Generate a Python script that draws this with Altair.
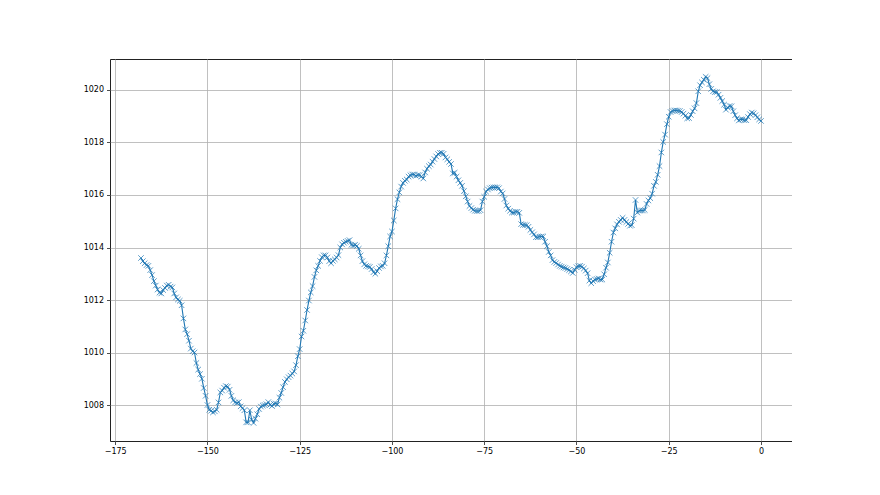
import altair as alt
import pandas as pd

# Pressure readings every half hour from -168 h to 0 h
pressure = [
    1013.60, 1013.48, 1013.40, 1013.33, 1013.30, 1013.14, 1012.95, 1012.72, 1012.55, 1012.40,
    1012.28, 1012.25, 1012.38, 1012.46, 1012.55, 1012.58, 1012.51, 1012.48, 1012.25, 1012.10,
    1012.02, 1011.97, 1011.80, 1011.30, 1010.88, 1010.70, 1010.45, 1010.15, 1010.05, 1010.00,
    1009.60, 1009.35, 1009.18, 1009.00, 1008.65, 1008.35, 1008.00, 1007.82, 1007.78, 1007.72,
    1007.76, 1007.82, 1008.10, 1008.48, 1008.55, 1008.66, 1008.72, 1008.70, 1008.58, 1008.35,
    1008.18, 1008.10, 1008.08, 1008.11, 1007.95, 1007.88, 1007.80, 1007.34, 1007.34, 1007.80,
    1007.44, 1007.32, 1007.48, 1007.65, 1007.85, 1007.94, 1007.98, 1008.00, 1008.03, 1008.11,
    1008.01, 1007.96, 1008.05, 1008.06, 1008.02, 1008.28, 1008.46, 1008.68, 1008.88, 1008.98,
    1009.06, 1009.12, 1009.20, 1009.28, 1009.52, 1009.86, 1010.13, 1010.61, 1010.83, 1011.22,
    1011.62, 1011.98, 1012.29, 1012.53, 1012.88, 1013.13, 1013.30, 1013.49, 1013.63, 1013.70,
    1013.70, 1013.62, 1013.48, 1013.40, 1013.49, 1013.55, 1013.62, 1013.71, 1014.00, 1014.12,
    1014.18, 1014.22, 1014.25, 1014.28, 1014.10, 1014.08, 1014.10, 1014.06, 1013.95, 1013.70,
    1013.48, 1013.36, 1013.30, 1013.28, 1013.26, 1013.18, 1013.06, 1013.00, 1013.10, 1013.22,
    1013.28, 1013.30, 1013.40, 1013.70, 1014.05, 1014.42, 1014.61, 1015.03, 1015.49, 1015.84,
    1016.10, 1016.32, 1016.46, 1016.54, 1016.59, 1016.70, 1016.75, 1016.78, 1016.78, 1016.73,
    1016.76, 1016.76, 1016.70, 1016.63, 1016.86, 1017.00, 1017.10, 1017.16, 1017.27, 1017.37,
    1017.47, 1017.56, 1017.61, 1017.61, 1017.57, 1017.43, 1017.36, 1017.26, 1017.18, 1016.82,
    1016.85, 1016.70, 1016.56, 1016.46, 1016.35, 1016.15, 1015.95, 1015.75, 1015.58, 1015.50,
    1015.44, 1015.40, 1015.39, 1015.39, 1015.42, 1015.75, 1015.93, 1016.13, 1016.21, 1016.26,
    1016.28, 1016.29, 1016.29, 1016.29, 1016.26, 1016.13, 1016.06, 1015.85, 1015.60, 1015.48,
    1015.40, 1015.33, 1015.33, 1015.36, 1015.36, 1015.32, 1014.89, 1014.86, 1014.86, 1014.85,
    1014.79, 1014.67, 1014.58, 1014.50, 1014.39, 1014.39, 1014.41, 1014.42, 1014.42, 1014.22,
    1014.05, 1013.83, 1013.70, 1013.52, 1013.45, 1013.41, 1013.35, 1013.30, 1013.27, 1013.24,
    1013.22, 1013.18, 1013.14, 1013.09, 1013.03, 1013.15, 1013.25, 1013.29, 1013.30, 1013.27,
    1013.20, 1013.12, 1013.02, 1012.74, 1012.64, 1012.72, 1012.78, 1012.80, 1012.82, 1012.78,
    1012.78, 1012.98, 1013.23, 1013.43, 1013.80, 1014.22, 1014.57, 1014.73, 1014.88, 1014.98,
    1015.05, 1015.13, 1015.05, 1014.97, 1014.90, 1014.83, 1014.85, 1015.10, 1015.81, 1015.33,
    1015.40, 1015.41, 1015.41, 1015.43, 1015.66, 1015.79, 1015.88, 1016.05, 1016.35, 1016.50,
    1016.77, 1017.10, 1017.62, 1018.02, 1018.30, 1018.70, 1018.98, 1019.16, 1019.20, 1019.22,
    1019.22, 1019.21, 1019.20, 1019.16, 1019.10, 1019.02, 1018.92, 1018.93, 1019.05, 1019.19,
    1019.30, 1019.50, 1019.95, 1020.18, 1020.29, 1020.39, 1020.50, 1020.45, 1020.22, 1020.04,
    1019.95, 1019.92, 1019.92, 1019.82, 1019.70, 1019.58, 1019.44, 1019.25, 1019.33, 1019.39,
    1019.38, 1019.19, 1019.04, 1018.92, 1018.84, 1018.88, 1018.88, 1018.85, 1018.85, 1018.97,
    1019.08, 1019.14, 1019.11, 1019.04, 1018.96, 1018.88, 1018.82,
]
hours = [-168 + 0.5 * i for i in range(len(pressure))]

x_ticks = [-175, -150, -125, -100, -75, -50, -25, 0]
y_ticks = [1008, 1010, 1012, 1014, 1016, 1018, 1020]

df = pd.DataFrame({"hour": hours, "pressure": pressure})

color = "#1f77b4"
xs = alt.Scale(domain=[-176.4, 8.4], nice=False, zero=False)
ys = alt.Scale(domain=[1006.63, 1021.18], nice=False, zero=False)

x_enc = alt.X("hour:Q", scale=xs, title=None,
              axis=alt.Axis(values=x_ticks, format="d"))
y_enc = alt.Y("pressure:Q", scale=ys, title=None,
              axis=alt.Axis(values=y_ticks, format="d"))

line = alt.Chart(df).mark_line(color=color, strokeWidth=1.1).encode(x=x_enc, y=y_enc)
pts = alt.Chart(df).mark_point(
    shape="M-1,-1L1,1M-1,1L1,-1", filled=False, stroke=color,
    strokeWidth=0.9, size=30, opacity=0.8
).encode(x=x_enc, y=y_enc)

chart = (line + pts).properties(
    width=682, height=382,
    autosize=alt.AutoSizeParams(type="none"),
    padding={"left": 102, "top": 51, "right": 0, "bottom": 40},
).configure_view(
    stroke="#222222", strokeWidth=1
).configure_axis(
    domain=False,
    grid=True, gridColor="#b0b0b0", gridWidth=0.8,
    ticks=True, tickColor="#222222", tickSize=3.5, tickWidth=0.8,
    labelColor="#000000", labelFont="DejaVu Sans", labelFontSize=8,
    labelPadding=3,
).configure_axisY(labelPadding=3)

chart.save("out.html", embed_options={"renderer": "svg", "actions": False})
